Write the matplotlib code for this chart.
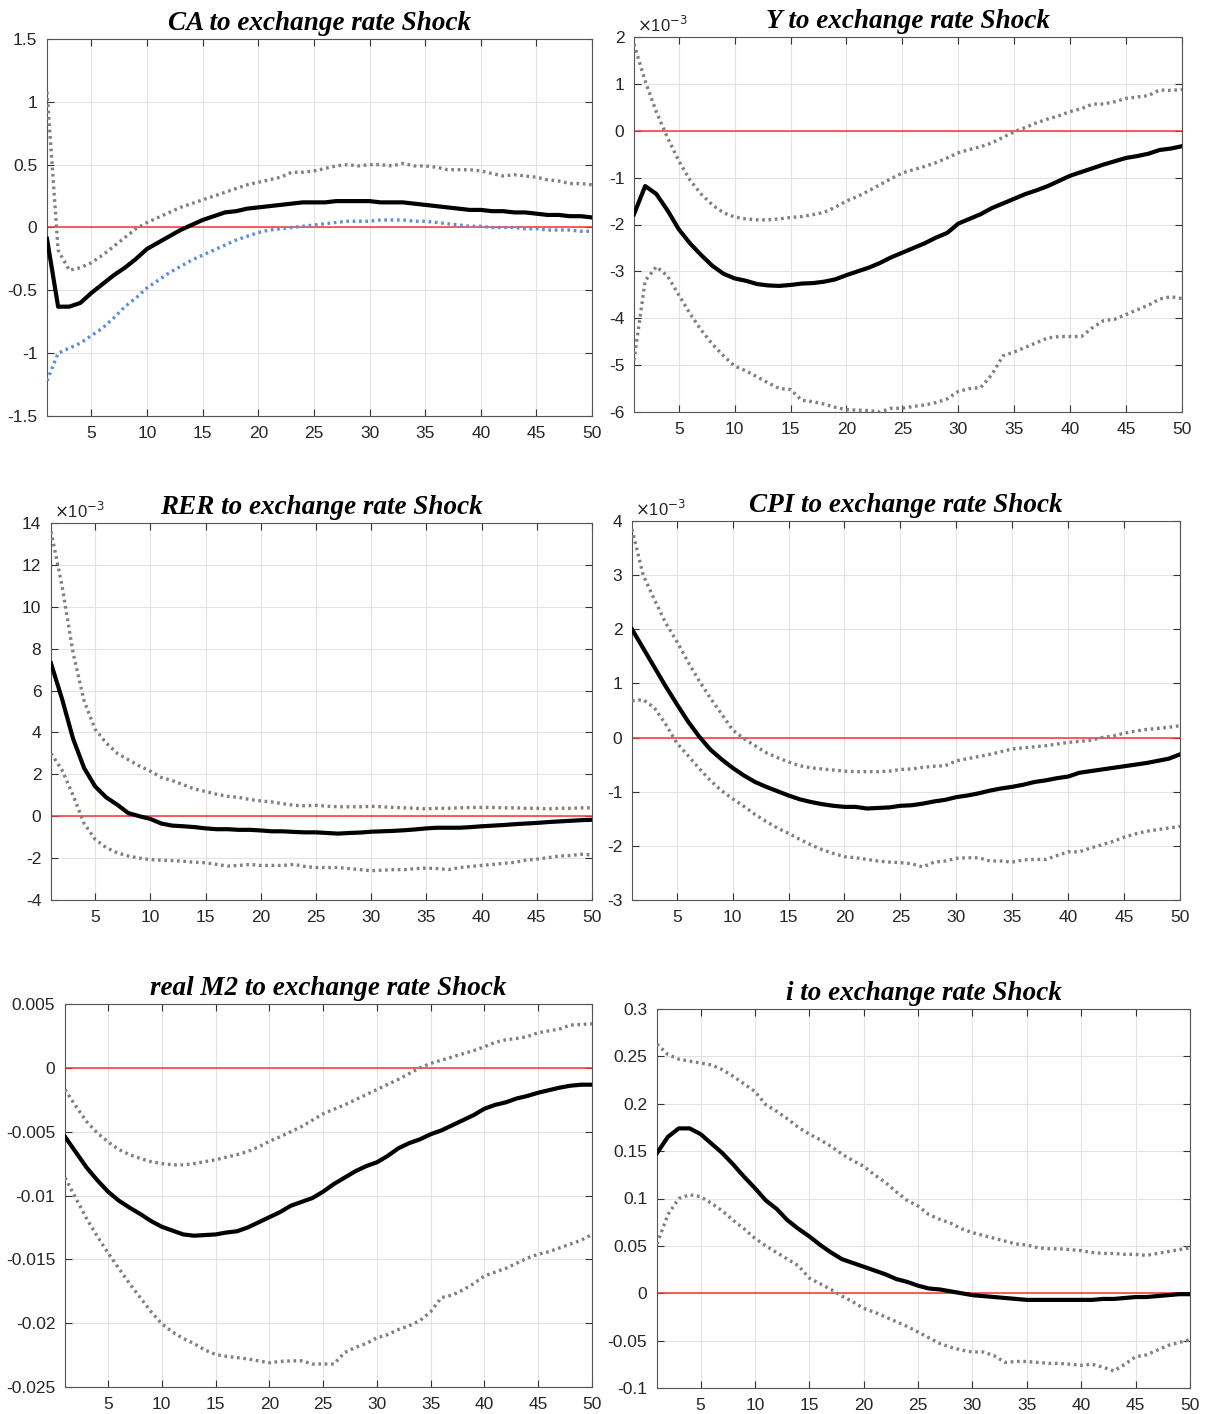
import numpy as np
import matplotlib
matplotlib.use("Agg")
import matplotlib.pyplot as plt
from matplotlib.ticker import MultipleLocator, FuncFormatter

# horizons 1..50
periods = np.arange(1, 51)

# ---- CA to exchange rate shock ----
ca_mid = [-0.09, -0.63, -0.63, -0.60, -0.52, -0.45, -0.38, -0.32, -0.25, -0.17,
          -0.12, -0.07, -0.02, 0.02, 0.06, 0.09, 0.12, 0.13, 0.15, 0.16,
          0.17, 0.18, 0.19, 0.20, 0.20, 0.20, 0.21, 0.21, 0.21, 0.21,
          0.20, 0.20, 0.20, 0.19, 0.18, 0.17, 0.16, 0.15, 0.14, 0.14,
          0.13, 0.13, 0.12, 0.12, 0.11, 0.10, 0.10, 0.09, 0.09, 0.08]
ca_up = [1.08, -0.18, -0.34, -0.32, -0.28, -0.22, -0.15, -0.08, -0.01, 0.04,
         0.08, 0.12, 0.16, 0.19, 0.22, 0.25, 0.28, 0.31, 0.34, 0.36,
         0.38, 0.40, 0.44, 0.44, 0.45, 0.47, 0.49, 0.50, 0.49, 0.50,
         0.50, 0.49, 0.51, 0.49, 0.49, 0.48, 0.46, 0.46, 0.46, 0.45,
         0.43, 0.41, 0.42, 0.41, 0.40, 0.38, 0.37, 0.35, 0.35, 0.34]
ca_lo = [-1.22, -1.00, -0.96, -0.92, -0.86, -0.80, -0.72, -0.63, -0.56, -0.48,
         -0.42, -0.36, -0.31, -0.26, -0.22, -0.18, -0.14, -0.10, -0.07, -0.04,
         -0.02, -0.01, 0.00, 0.01, 0.02, 0.03, 0.04, 0.05, 0.05, 0.05,
         0.06, 0.06, 0.06, 0.05, 0.05, 0.04, 0.03, 0.02, 0.01, 0.01,
         0.00, 0.00, 0.00, -0.01, -0.01, -0.02, -0.02, -0.02, -0.03, -0.03]

# ---- Y to exchange rate shock (x 1e-3) ----
y_mid = [-1.78, -1.18, -1.35, -1.70, -2.10, -2.40, -2.65, -2.88, -3.05, -3.15,
         -3.20, -3.27, -3.30, -3.31, -3.29, -3.26, -3.25, -3.22, -3.17, -3.08,
         -3.00, -2.92, -2.82, -2.70, -2.60, -2.50, -2.40, -2.28, -2.18, -1.98,
         -1.88, -1.78, -1.65, -1.55, -1.45, -1.35, -1.27, -1.18, -1.07, -0.96,
         -0.88, -0.80, -0.72, -0.65, -0.58, -0.54, -0.49, -0.41, -0.38, -0.33]
y_up = [1.85, 1.06, 0.40, -0.15, -0.64, -1.05, -1.35, -1.58, -1.75, -1.84,
        -1.88, -1.90, -1.90, -1.88, -1.85, -1.83, -1.79, -1.74, -1.63, -1.50,
        -1.40, -1.28, -1.15, -1.02, -0.90, -0.83, -0.76, -0.68, -0.58, -0.47,
        -0.40, -0.34, -0.26, -0.14, -0.02, 0.07, 0.17, 0.25, 0.32, 0.41,
        0.47, 0.57, 0.57, 0.62, 0.69, 0.72, 0.75, 0.87, 0.86, 0.88]
y_lo = [-4.90, -3.20, -2.90, -3.10, -3.50, -3.90, -4.25, -4.55, -4.80, -5.02,
        -5.12, -5.25, -5.38, -5.50, -5.52, -5.75, -5.78, -5.83, -5.90, -5.95,
        -5.96, -5.97, -6.00, -5.92, -5.92, -5.88, -5.85, -5.80, -5.72, -5.56,
        -5.50, -5.48, -5.20, -4.80, -4.72, -4.62, -4.52, -4.42, -4.39, -4.39,
        -4.39, -4.20, -4.05, -4.02, -3.92, -3.82, -3.72, -3.59, -3.54, -3.58]

# ---- RER to exchange rate shock (x 1e-3) ----
rer_mid = [7.30, 5.60, 3.70, 2.30, 1.42, 0.90, 0.55, 0.15, 0.00, -0.13,
           -0.35, -0.45, -0.48, -0.52, -0.58, -0.62, -0.62, -0.65, -0.65, -0.68,
           -0.72, -0.72, -0.75, -0.77, -0.77, -0.80, -0.83, -0.80, -0.78, -0.74,
           -0.72, -0.70, -0.67, -0.63, -0.58, -0.55, -0.55, -0.55, -0.52, -0.48,
           -0.45, -0.42, -0.38, -0.35, -0.32, -0.28, -0.25, -0.22, -0.19, -0.17]
rer_up = [13.60, 11.00, 7.80, 5.50, 4.15, 3.50, 3.00, 2.70, 2.40, 2.15,
          1.85, 1.70, 1.50, 1.30, 1.18, 1.05, 0.95, 0.90, 0.80, 0.73,
          0.68, 0.60, 0.52, 0.50, 0.52, 0.48, 0.45, 0.45, 0.45, 0.47,
          0.45, 0.42, 0.40, 0.38, 0.35, 0.38, 0.38, 0.40, 0.42, 0.42,
          0.42, 0.40, 0.40, 0.38, 0.38, 0.35, 0.38, 0.38, 0.40, 0.40]
rer_lo = [3.00, 2.20, 1.00, -0.35, -1.10, -1.50, -1.75, -1.90, -2.00, -2.07,
          -2.10, -2.12, -2.15, -2.20, -2.22, -2.30, -2.38, -2.35, -2.30, -2.35,
          -2.35, -2.35, -2.30, -2.40, -2.45, -2.45, -2.45, -2.50, -2.55, -2.60,
          -2.58, -2.55, -2.55, -2.50, -2.48, -2.50, -2.55, -2.45, -2.40, -2.35,
          -2.30, -2.25, -2.20, -2.10, -2.05, -1.98, -1.90, -1.88, -1.82, -1.85]

# ---- CPI to exchange rate shock (x 1e-3) ----
cpi_mid = [2.00, 1.65, 1.30, 0.95, 0.62, 0.30, 0.02, -0.22, -0.40, -0.56,
           -0.70, -0.82, -0.91, -0.99, -1.07, -1.14, -1.19, -1.23, -1.26, -1.28,
           -1.28, -1.31, -1.30, -1.29, -1.26, -1.25, -1.22, -1.18, -1.15, -1.10,
           -1.07, -1.03, -0.98, -0.94, -0.91, -0.87, -0.82, -0.79, -0.75, -0.72,
           -0.65, -0.62, -0.59, -0.56, -0.53, -0.50, -0.47, -0.43, -0.39, -0.31]
cpi_up = [3.85, 3.00, 2.55, 2.12, 1.78, 1.40, 1.05, 0.73, 0.44, 0.14,
          -0.02, -0.15, -0.28, -0.37, -0.45, -0.52, -0.56, -0.58, -0.60, -0.62,
          -0.63, -0.63, -0.63, -0.62, -0.59, -0.58, -0.55, -0.53, -0.52, -0.43,
          -0.39, -0.35, -0.31, -0.26, -0.21, -0.19, -0.17, -0.15, -0.12, -0.09,
          -0.07, -0.05, 0.00, 0.03, 0.08, 0.12, 0.15, 0.17, 0.19, 0.22]
cpi_lo = [0.68, 0.70, 0.55, 0.25, -0.10, -0.33, -0.57, -0.79, -0.98, -1.13,
          -1.27, -1.42, -1.55, -1.67, -1.77, -1.88, -1.98, -2.07, -2.14, -2.20,
          -2.22, -2.25, -2.28, -2.30, -2.31, -2.33, -2.39, -2.30, -2.28, -2.23,
          -2.22, -2.22, -2.28, -2.28, -2.30, -2.26, -2.25, -2.25, -2.18, -2.11,
          -2.11, -2.04, -1.98, -1.92, -1.84, -1.78, -1.73, -1.70, -1.67, -1.64]

# ---- real M2 to exchange rate shock ----
m2_mid = [-5.40, -6.60, -7.80, -8.80, -9.70, -10.40, -10.95, -11.45, -12.00, -12.45,
          -12.75, -13.05, -13.15, -13.10, -13.05, -12.90, -12.80, -12.50, -12.10, -11.70,
          -11.30, -10.80, -10.50, -10.20, -9.70, -9.10, -8.60, -8.10, -7.70, -7.40,
          -6.90, -6.30, -5.90, -5.60, -5.20, -4.90, -4.50, -4.10, -3.70, -3.20,
          -2.90, -2.70, -2.40, -2.20, -1.95, -1.75, -1.55, -1.40, -1.32, -1.32]
m2_up = [-1.70, -3.00, -4.20, -5.10, -5.80, -6.40, -6.80, -7.10, -7.35, -7.50,
         -7.60, -7.60, -7.50, -7.35, -7.20, -7.00, -6.80, -6.55, -6.20, -5.75,
         -5.40, -5.00, -4.60, -4.10, -3.60, -3.25, -2.90, -2.50, -2.10, -1.70,
         -1.30, -0.90, -0.45, 0.00, 0.35, 0.60, 0.85, 1.10, 1.35, 1.65,
         2.00, 2.20, 2.30, 2.45, 2.75, 2.90, 3.05, 3.35, 3.40, 3.45]
m2_lo = [-8.60, -10.20, -11.80, -13.20, -14.50, -15.70, -16.90, -18.00, -19.10, -20.05,
         -20.70, -21.20, -21.60, -22.10, -22.45, -22.60, -22.70, -22.80, -22.95, -23.10,
         -23.00, -22.95, -22.95, -23.20, -23.20, -23.20, -22.30, -21.90, -21.60, -21.15,
         -20.90, -20.50, -20.20, -19.80, -19.10, -18.00, -17.80, -17.40, -16.90, -16.30,
         -16.00, -15.70, -15.30, -14.90, -14.60, -14.40, -14.10, -13.80, -13.50, -13.05]
m2_mid = [v / 1000 for v in m2_mid]
m2_up = [v / 1000 for v in m2_up]
m2_lo = [v / 1000 for v in m2_lo]

# ---- i to exchange rate shock ----
i_mid = [0.148, 0.165, 0.174, 0.174, 0.168, 0.158, 0.148, 0.136, 0.123, 0.111,
         0.098, 0.089, 0.077, 0.068, 0.060, 0.051, 0.043, 0.036, 0.032, 0.028,
         0.024, 0.020, 0.015, 0.012, 0.008, 0.005, 0.004, 0.002, 0.000, -0.002,
         -0.003, -0.004, -0.005, -0.006, -0.007, -0.007, -0.007, -0.007, -0.007, -0.007,
         -0.007, -0.006, -0.006, -0.005, -0.004, -0.004, -0.003, -0.002, -0.001, -0.001]
i_up = [0.263, 0.252, 0.247, 0.245, 0.243, 0.241, 0.236, 0.229, 0.221, 0.213,
        0.199, 0.192, 0.184, 0.175, 0.168, 0.162, 0.155, 0.147, 0.140, 0.134,
        0.125, 0.117, 0.107, 0.098, 0.092, 0.083, 0.078, 0.074, 0.068, 0.064,
        0.061, 0.058, 0.055, 0.052, 0.051, 0.048, 0.047, 0.047, 0.046, 0.045,
        0.043, 0.042, 0.042, 0.041, 0.041, 0.040, 0.042, 0.044, 0.046, 0.048]
i_lo = [0.052, 0.083, 0.100, 0.104, 0.102, 0.095, 0.087, 0.077, 0.068, 0.058,
        0.050, 0.043, 0.036, 0.029, 0.016, 0.010, 0.004, -0.003, -0.009, -0.016,
        -0.020, -0.025, -0.030, -0.035, -0.041, -0.047, -0.053, -0.057, -0.060, -0.062,
        -0.062, -0.066, -0.073, -0.072, -0.072, -0.073, -0.074, -0.074, -0.075, -0.076,
        -0.075, -0.078, -0.082, -0.075, -0.067, -0.065, -0.060, -0.055, -0.052, -0.049]

W, H = 1207, 1414
fig = plt.figure(figsize=(W / 100, H / 100), dpi=100)

# (title, mid, upper, lower, lower colour, ylim, ystep, x1e-3 label, box px l r t b)
panels = [
    ("CA to exchange rate Shock", ca_mid, ca_up, ca_lo, "#5b8fd9", (-1.5, 1.5), 0.5, False, (47, 592, 39, 416)),
    ("Y to exchange rate Shock", y_mid, y_up, y_lo, "#808080", (-6, 2), 1, True, (634, 1182, 37, 412)),
    ("RER to exchange rate Shock", rer_mid, rer_up, rer_lo, "#808080", (-4, 14), 2, True, (51, 592, 523, 900)),
    ("CPI to exchange rate Shock", cpi_mid, cpi_up, cpi_lo, "#808080", (-3, 4), 1, True, (632, 1180, 521, 900)),
    ("real M2 to exchange rate Shock", m2_mid, m2_up, m2_lo, "#808080", (-0.025, 0.005), 0.005, False, (65, 592, 1004, 1387)),
    ("i to exchange rate Shock", i_mid, i_up, i_lo, "#808080", (-0.1, 0.3), 0.05, False, (657, 1190, 1009, 1388)),
]


def fmt(v, pos):
    v = round(v, 6) + 0.0
    if v == 0:
        return "0"
    return "%g" % v


dots = (0, (0.8, 1.1))
for title, mid, up, lo, locol, ylim, ystep, sci, (l, r, t, b) in panels:
    ax = fig.add_axes([l / W, 1 - b / H, (r - l) / W, (b - t) / H])
    ax.axhline(0, color="#ff3030", lw=1.1, zorder=2)
    ax.plot(periods, up, color="#808080", lw=2.4, ls=dots, zorder=3)
    ax.plot(periods, lo, color=locol, lw=2.4, ls=dots, zorder=3)
    ax.plot(periods, mid, color="black", lw=3.0, zorder=4)
    ax.set_xlim(1, 50)
    ax.set_ylim(*ylim)
    ax.xaxis.set_major_locator(MultipleLocator(5))
    ax.yaxis.set_major_locator(MultipleLocator(ystep))
    ax.yaxis.set_major_formatter(FuncFormatter(fmt))
    ax.grid(True, color="#e3e3e3", lw=0.8)
    ax.set_axisbelow(True)
    ax.tick_params(direction="in", top=True, right=True, length=5, width=0.8,
                   color="#333333", labelsize=12.5, labelcolor="#262626", pad=7)
    for lab in ax.get_xticklabels() + ax.get_yticklabels():
        lab.set_fontfamily("Liberation Sans")
    for sp in ax.spines.values():
        sp.set_color("#555555")
        sp.set_linewidth(0.8)
    ax.set_title(title, family="Liberation Serif", style="italic", weight="bold",
                 fontsize=19.5, pad=6.5)
    if sci:
        ax.text(0.005, 1.004, r"$\times$10$^{-3}$", transform=ax.transAxes,
                fontsize=12, family="Liberation Sans", color="#262626",
                ha="left", va="bottom")

fig.savefig("out.png", dpi=100)
